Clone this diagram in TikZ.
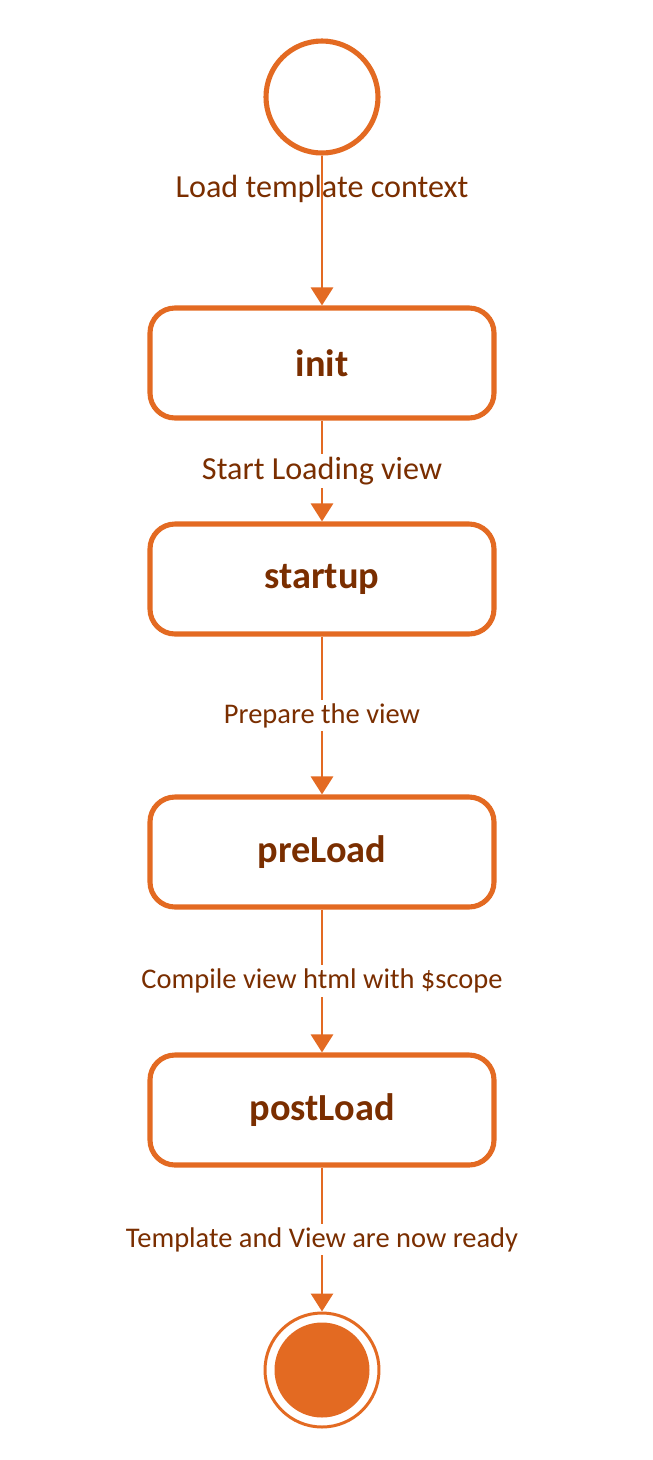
\documentclass[tikz,border=0pt]{standalone}
\usepackage{fontspec}
\setmainfont{Carlito}
\usepackage{xcolor}
\usetikzlibrary{arrows.meta}
\definecolor{zustand}{RGB}{227,106,34}
\definecolor{schrift}{RGB}{122,46,0}

\begin{document}
\begin{tikzpicture}[
		statebox/.style={draw=zustand, line width=2.9pt, rounded corners=0.5cm, minimum width=6.88cm, minimum height=2.2cm, text=schrift, font=\fontsize{21.8}{25}\selectfont\bfseries},
		pfeil/.style={draw=zustand, line width=1.7pt, -{Triangle[width=0.44cm,length=0.36cm]}},
		label/.style={text=schrift, font=\fontsize{16.2}{19}\selectfont, inner sep=2pt},
		gross/.style={label, font=\fontsize{18.3}{21}\selectfont},
		weiss/.style={fill=white}
	]
		\useasboundingbox (0,0) rectangle (13.04,-29.2);
		
		% Start
		\node[circle, draw=zustand, line width=2.9pt, minimum size=2.24cm, inner sep=0pt] (start) at (6.44,-1.94) {};
		
		% Zustaende
		\node[statebox] (init) at (6.44,-7.26) {init};
		\node[statebox] (startup) at (6.44,-11.58) {startup};
		\node[statebox] (preload) at (6.44,-17.04) {preLoad};
		\node[statebox] (postload) at (6.44,-22.2) {postLoad};
		
		% Ende
		\node[circle, draw=zustand, line width=1.7pt, minimum size=2.28cm, inner sep=0pt] (ende) at (6.44,-27.4) {};
		\node[circle, fill=zustand, minimum size=1.9cm, inner sep=0pt] (endepunkt) at (ende) {};
		
		% Uebergaenge
		\draw[pfeil] (start) -- node[gross, pos=0.22] {Load template context} (init);
		\draw[pfeil] (init) -- node[gross, weiss] {Start Loading view} (startup);
		\draw[pfeil] (startup) -- node[label, weiss] {Prepare the view} (preload);
		\draw[pfeil] (preload) -- node[label, weiss] {Compile view html with \$scope} (postload);
		\draw[pfeil] (postload) -- node[label, weiss] {Template and View are now ready} (ende);
		
	\end{tikzpicture}
\end{document}
